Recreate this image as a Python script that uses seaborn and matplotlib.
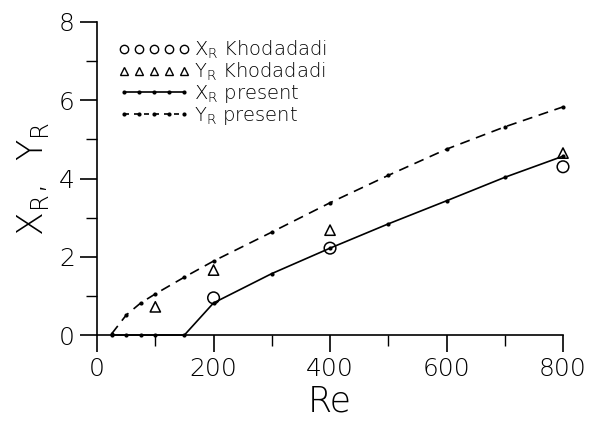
import matplotlib
matplotlib.use("Agg")
import matplotlib.pyplot as plt
from matplotlib.lines import Line2D
from matplotlib.ticker import MultipleLocator
import seaborn as sns
import pandas as pd

# --- Data ---
re_present = [25, 50, 75, 100, 150, 200, 300, 400, 500, 600, 700, 800]
xr_present = [0.0, 0.0, 0.0, 0.0, 0.0, 0.82, 1.57, 2.22, 2.84, 3.43, 4.03, 4.57]
yr_present = [0.03, 0.51, 0.82, 1.05, 1.48, 1.89, 2.63, 3.38, 4.08, 4.75, 5.32, 5.83]

re_khod = [200, 400, 800]
xr_khod = [0.95, 2.22, 4.30]
re_khod_y = [100, 200, 400, 800]
yr_khod = [0.72, 1.66, 2.68, 4.65]

sns.set_style("ticks")
plt.rcParams['font.family'] = ['DejaVu Sans']
plt.rcParams['font.weight'] = 'light'
plt.rcParams['axes.labelweight'] = 'light'
plt.rcParams['text.color'] = 'black'
plt.rcParams['axes.labelcolor'] = 'black'
plt.rcParams['xtick.color'] = 'black'
plt.rcParams['ytick.color'] = 'black'

fig = plt.figure(figsize=(5.92, 4.23), dpi=100)
ax = fig.add_axes([0.164, 0.208, 0.787, 0.740])

present = pd.DataFrame({"Re": re_present, "XR": xr_present, "YR": yr_present})
sns.lineplot(data=present, x="Re", y="XR", ax=ax, color="black", lw=1.2,
             marker="o", markersize=3, markeredgewidth=0, clip_on=False)
sns.lineplot(data=present, x="Re", y="YR", ax=ax, color="black", lw=1.2,
             linestyle=(0, (6, 4)), marker="o", markersize=3,
             markeredgewidth=0, clip_on=False)
sns.scatterplot(x=re_khod, y=xr_khod, ax=ax, marker="o", s=70,
                facecolor="none", edgecolor="black", linewidth=1.1, clip_on=False)
sns.scatterplot(x=re_khod_y, y=yr_khod, ax=ax, marker="^", s=55,
                facecolor="none", edgecolor="black", linewidth=1.1, clip_on=False)

ax.set_xlim(0, 800)
ax.set_ylim(0, 8)
ax.xaxis.set_major_locator(MultipleLocator(200))
ax.xaxis.set_minor_locator(MultipleLocator(100))
ax.yaxis.set_major_locator(MultipleLocator(2))
ax.yaxis.set_minor_locator(MultipleLocator(1))
ax.tick_params(which="major", length=12, width=1.2, labelsize=18, pad=4)
ax.tick_params(which="minor", length=8, width=1.0)
sns.despine(ax=ax)
for s in ["left", "bottom"]:
    ax.spines[s].set_linewidth(1.2)
    ax.spines[s].set_color("black")

ax.set_xlabel("Re", fontsize=25, labelpad=2)
ax.set_ylabel(r"X$_\mathregular{R}$,  Y$_\mathregular{R}$", fontsize=25, labelpad=6)

handles = [
    Line2D([], [], ls="none", marker="o", mfc="none", mec="black", ms=6),
    Line2D([], [], ls="none", marker="^", mfc="none", mec="black", ms=6),
    Line2D([], [], color="black", lw=1.2, marker="o", ms=3, mew=0),
    Line2D([], [], color="black", lw=1.2, ls=(0, (3, 3)), marker="o", ms=3, mew=0),
]
labels = [r"X$_\mathregular{R}$ Khodadadi", r"Y$_\mathregular{R}$ Khodadadi",
          r"X$_\mathregular{R}$ present", r"Y$_\mathregular{R}$ present"]
ax.legend(handles, labels, loc="upper left", bbox_to_anchor=(0.02, 0.985),
          numpoints=5, frameon=False, fontsize=14, handlelength=3.7,
          handletextpad=0.2, labelspacing=0.0, borderaxespad=0.2)

fig.savefig("out.png", dpi=100)
